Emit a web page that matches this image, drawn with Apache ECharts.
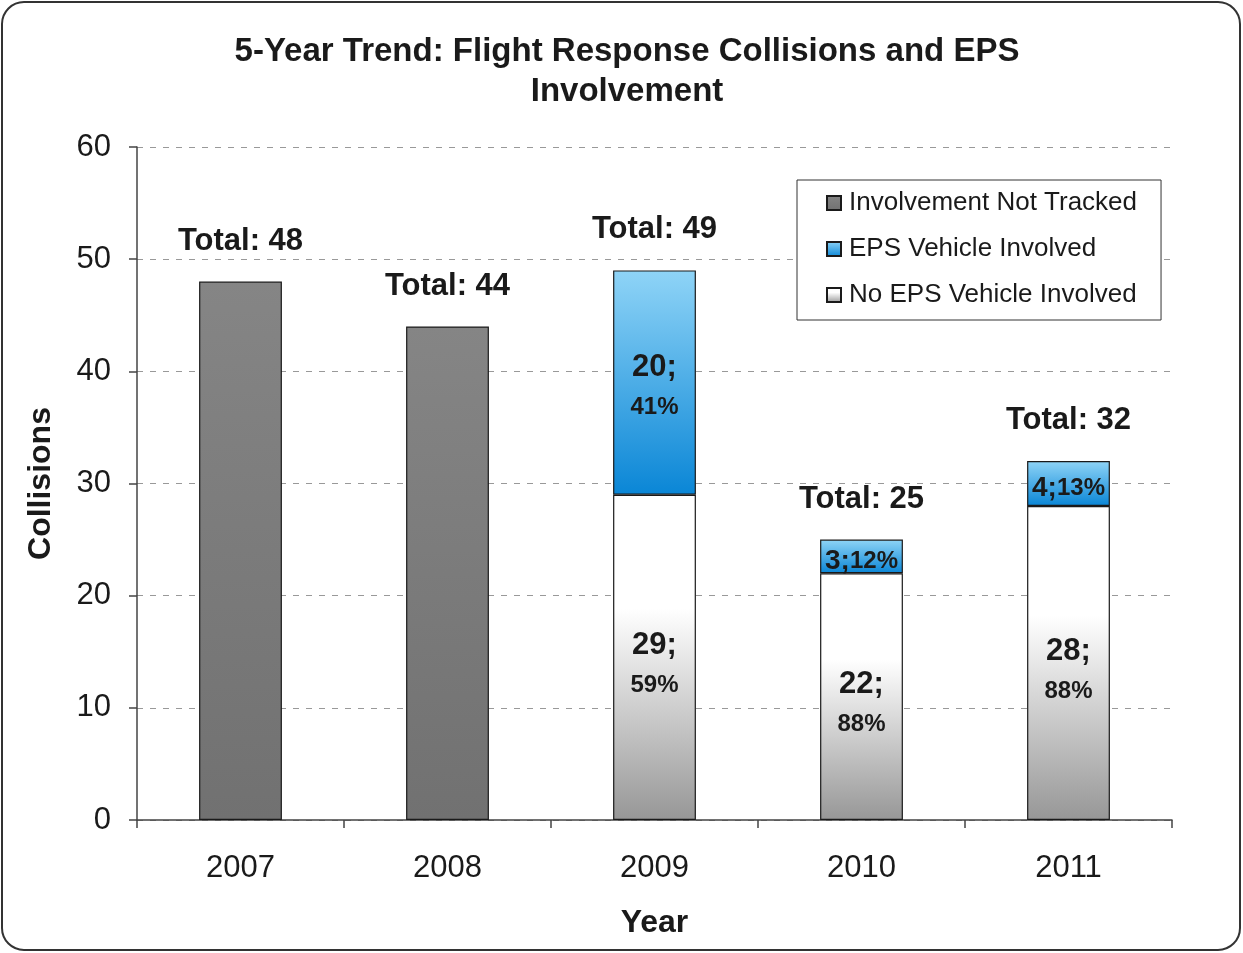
<!DOCTYPE html>
<html>
<head>
<meta charset="utf-8">
<script src="https://cdn.jsdelivr.net/npm/echarts@6/dist/echarts.min.js"></script>
<style>
html,body{margin:0;padding:0;background:#fff;}
#chart{width:1243px;height:953px;}
</style>
</head>
<body>
<div id="chart"></div>
<script>
const years = ['2007', '2008', '2009', '2010', '2011'];
const notTracked = [48, 44, null, null, null];
const noEps = [null, null, 29, 22, 28];
const eps = [null, null, 20, 3, 4];
const yTicks = [0, 10, 20, 30, 40, 50, 60];

const totals = years.map((_, i) => (notTracked[i] || 0) + (noEps[i] || 0) + (eps[i] || 0));
const pct = (v, i) => Math.round(v / totals[i] * 100) + '%';

const FONT = '"Liberation Sans", Arial, sans-serif';
const chart = echarts.init(document.getElementById('chart'));

const grad = (stops) => ({ type: 'linear', x: 0, y: 0, x2: 0, y2: 1, colorStops: stops });

const innerRich = {
  a: { fontSize: 31, fontWeight: 'bold', color: '#1a1a1a', fontFamily: FONT, lineHeight: 40 },
  b: { fontSize: 24, fontWeight: 'bold', color: '#1a1a1a', fontFamily: FONT, lineHeight: 40 },
  s: { fontSize: 28, fontWeight: 'bold', color: '#1a1a1a', fontFamily: FONT, lineHeight: 30 },
  t: { fontSize: 24, fontWeight: 'bold', color: '#1a1a1a', fontFamily: FONT, lineHeight: 30 }
};

const innerFormatter = (p) => {
  const v = p.value;
  if (v == null) return '';
  if (v < 5) return '{s|' + v + ';}{t|' + pct(v, p.dataIndex) + '}';
  return '{a|' + v + ';}\n{b|' + pct(v, p.dataIndex) + '}';
};

chart.setOption({
  animation: false,
  backgroundColor: '#fff',
  title: {
    text: '5-Year Trend: Flight Response Collisions and EPS\nInvolvement',
    left: 622, textAlign: 'center', top: 27,
    textStyle: { fontFamily: FONT, fontSize: 33, fontWeight: 'bold', color: '#1a1a1a', lineHeight: 40 }
  },
  graphic: [{
    type: 'rect', silent: true, z: -1,
    shape: { x: 2, y: 2, width: 1238, height: 948, r: 22 },
    style: { fill: 'none', stroke: '#333', lineWidth: 2 }
  }],
  legend: {
    data: ['Involvement Not Tracked', 'EPS Vehicle Involved', 'No EPS Vehicle Involved'],
    orient: 'vertical', left: 797, top: 180,
    padding: [10, 24, 12, 29],
    itemWidth: 14, itemHeight: 14, itemGap: 20,
    backgroundColor: '#fff', borderColor: '#333', borderWidth: 1,
    icon: 'rect',
    textStyle: { fontFamily: FONT, fontSize: 26, color: '#1a1a1a', lineHeight: 26, padding: [0, 0, 0, 3] }
  },
  grid: { left: 137, right: 71, top: 147, bottom: 133, containLabel: false },
  xAxis: {
    type: 'category', data: years,
    name: 'Year', nameLocation: 'middle', nameGap: 87,
    nameTextStyle: { fontFamily: FONT, fontSize: 32, fontWeight: 'bold', color: '#1a1a1a' },
    axisLine: { lineStyle: { color: '#444', width: 1.5 } },
    axisTick: { show: true, alignWithLabel: false, length: 8, lineStyle: { color: '#444', width: 1.5 } },
    axisLabel: { fontFamily: FONT, fontSize: 31, color: '#1a1a1a', margin: 33 }
  },
  yAxis: {
    type: 'value', min: yTicks[0], max: yTicks[yTicks.length - 1], interval: 10,
    name: 'Collisions', nameLocation: 'middle', nameGap: 80,
    nameTextStyle: { fontFamily: FONT, fontSize: 32, fontWeight: 'bold', color: '#1a1a1a' },
    axisLine: { show: true, lineStyle: { color: '#444', width: 1.5 } },
    axisTick: { show: true, length: 8, lineStyle: { color: '#444', width: 1.5 } },
    axisLabel: { fontFamily: FONT, fontSize: 31, color: '#1a1a1a', margin: 26 },
    splitLine: { lineStyle: { color: '#999', type: [6, 7], width: 1 } }
  },
  series: [
    {
      name: 'Involvement Not Tracked', type: 'bar', stack: 'a', barWidth: '40%',
      data: notTracked,
      itemStyle: { color: grad([{ offset: 0, color: '#858585' }, { offset: 1, color: '#717171' }]), borderColor: '#1a1a1a', borderWidth: 1.2 }
    },
    {
      name: 'No EPS Vehicle Involved', type: 'bar', stack: 'a', barWidth: '40%',
      data: noEps,
      itemStyle: { color: grad([{ offset: 0, color: '#ffffff' }, { offset: 0.35, color: '#ffffff' }, { offset: 1, color: '#979797' }]), borderColor: '#1a1a1a', borderWidth: 1.2 },
      label: { show: true, position: 'inside', formatter: innerFormatter, rich: innerRich, offset: [0, 8] }
    },
    {
      name: 'EPS Vehicle Involved', type: 'bar', stack: 'a', barWidth: '40%',
      data: eps,
      itemStyle: { color: grad([{ offset: 0, color: '#8fd4f7' }, { offset: 1, color: '#0a86d6' }]), borderColor: '#1a1a1a', borderWidth: 1.2 },
      label: { show: true, position: 'inside', formatter: innerFormatter, rich: innerRich, offset: [0, 5] }
    },
    {
      name: 'Total', type: 'bar', stack: 'a', barWidth: '40%',
      data: totals.map(() => 0),
      itemStyle: { color: 'transparent', borderWidth: 0 },
      label: {
        show: true, position: 'top', distance: 25,
        formatter: (p) => 'Total: ' + totals[p.dataIndex],
        fontFamily: FONT, fontSize: 31, fontWeight: 'bold', color: '#1a1a1a'
      },
      silent: true
    }
  ]
});
</script>
</body>
</html>
